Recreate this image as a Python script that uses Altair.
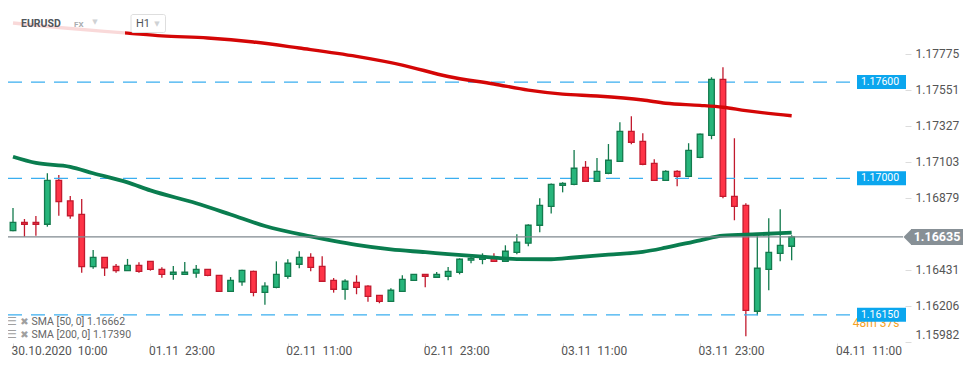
import altair as alt
import pandas as pd

# ---------------- data ----------------
opens = [1.16674, 1.16726, 1.16726, 1.16714, 1.16988, 1.16860, 1.16776, 1.16450, 1.16508, 1.16452,
         1.16425, 1.16458, 1.16483, 1.16433, 1.16402, 1.16402, 1.16409, 1.16433, 1.16396, 1.16296,
         1.16356, 1.16421, 1.16290, 1.16321, 1.16390, 1.16465, 1.16508, 1.16452, 1.16365, 1.16309,
         1.16352, 1.16328, 1.16271, 1.16234, 1.16296, 1.16365, 1.16402, 1.16384, 1.16390, 1.16415,
         1.16490, 1.16496, 1.16502, 1.16483, 1.16539, 1.16596, 1.16708, 1.16826, 1.16957, 1.16963,
         1.17069, 1.16982, 1.17032, 1.17106, 1.17293, 1.17231, 1.17094, 1.16988, 1.17044, 1.17013,
         1.17131, 1.17268, 1.17617, 1.16888, 1.16832, 1.16172, 1.16433, 1.16533, 1.16577]
closes = [1.16726, 1.16714, 1.16714, 1.16988, 1.16855, 1.16767, 1.16450, 1.16508, 1.16443, 1.16425,
          1.16458, 1.16421, 1.16433, 1.16402, 1.16415, 1.16415, 1.16433, 1.16396, 1.16296, 1.16365,
          1.16427, 1.16290, 1.16328, 1.16402, 1.16471, 1.16508, 1.16446, 1.16359, 1.16309, 1.16359,
          1.16321, 1.16265, 1.16234, 1.16303, 1.16371, 1.16402, 1.16390, 1.16402, 1.16421, 1.16496,
          1.16502, 1.16515, 1.16483, 1.16546, 1.16602, 1.16708, 1.16832, 1.16963, 1.16969, 1.17063,
          1.16982, 1.17044, 1.17113, 1.17293, 1.17225, 1.17088, 1.16988, 1.17044, 1.17013, 1.17175,
          1.17275, 1.17617, 1.16888, 1.16826, 1.16178, 1.16440, 1.16539, 1.16583, 1.16635]
highs = [1.16815, 1.16747, 1.16766, 1.17032, 1.17021, 1.16890, 1.16872, 1.16554, 1.16510, 1.16467,
         1.16498, 1.16477, 1.16485, 1.16446, 1.16454, 1.16479, 1.16460, 1.16435, 1.16398, 1.16385,
         1.16430, 1.16425, 1.16352, 1.16483, 1.16496, 1.16546, 1.16533, 1.16515, 1.16379, 1.16371,
         1.16396, 1.16334, 1.16273, 1.16315, 1.16396, 1.16404, 1.16404, 1.16417, 1.16448, 1.16502,
         1.16516, 1.16533, 1.16533, 1.16583, 1.16652, 1.16714, 1.16876, 1.16968, 1.16976, 1.17177,
         1.17108, 1.17127, 1.17214, 1.17349, 1.17387, 1.17281, 1.17119, 1.17050, 1.17050, 1.17219,
         1.17280, 1.17630, 1.17692, 1.17250, 1.16845, 1.16645, 1.16751, 1.16807, 1.16645]
lows = [1.16670, 1.16637, 1.16643, 1.16699, 1.16767, 1.16749, 1.16412, 1.16437, 1.16392, 1.16412,
        1.16423, 1.16412, 1.16425, 1.16381, 1.16369, 1.16400, 1.16381, 1.16390, 1.16294, 1.16294,
        1.16331, 1.16265, 1.16213, 1.16315, 1.16375, 1.16440, 1.16421, 1.16356, 1.16288, 1.16244,
        1.16278, 1.16232, 1.16222, 1.16232, 1.16294, 1.16363, 1.16321, 1.16382, 1.16365, 1.16402,
        1.16471, 1.16465, 1.16481, 1.16481, 1.16527, 1.16577, 1.16664, 1.16781, 1.16913, 1.16957,
        1.16980, 1.16980, 1.17026, 1.17104, 1.17212, 1.17082, 1.16986, 1.16986, 1.16951, 1.17007,
        1.17125, 1.17244, 1.16876, 1.16739, 1.16016, 1.16147, 1.16303, 1.16483, 1.16490]

sma50_idx = [0, 2, 5, 7, 10, 12, 16, 19, 22, 26, 28, 30, 33, 36, 38, 41, 44, 47, 49, 52, 55, 57, 60, 62, 65, 68]
sma50_val = [1.17135, 1.17096, 1.17072, 1.17032, 1.16975, 1.16925, 1.16845, 1.16775, 1.16703, 1.16638,
             1.16610, 1.16585, 1.16557, 1.16540, 1.16528, 1.16513, 1.16497, 1.16496, 1.16507, 1.16525,
             1.16542, 1.16568, 1.16614, 1.16643, 1.16652, 1.16662]
sma200_idx = [0, 4, 8, 10, 13, 17, 21, 25, 30, 34, 38, 42, 45, 48, 51, 55, 57, 60, 62, 64, 68]
sma200_val = [1.17968, 1.17940, 1.17916, 1.17905, 1.17888, 1.17875, 1.17850, 1.17812, 1.17760, 1.17706,
              1.17635, 1.17588, 1.17550, 1.17525, 1.17513, 1.17488, 1.17468, 1.17455, 1.17443, 1.17422,
              1.17390]

level_prices = [1.17600, 1.17000, 1.16150]
level_labels = ["1.17600", "1.17000", "1.16150"]
last_price = 1.16635
last_label = "1.16635"
y_ticks = [1.17775, 1.17551, 1.17327, 1.17103, 1.16879, 1.16431, 1.16206, 1.15982]
x_tick_idx = [0, 12, 24, 36, 48, 60, 72]
x_tick_labels = ["30.10.2020  10:00", "01.11  23:00", "02.11  11:00", "02.11  23:00",
                 "03.11  11:00", "03.11  23:00", "04.11  11:00"]
legend_lines = ["SMA [50, 0] 1.16662", "SMA [200, 0] 1.17390"]
symbol = "EURUSD"
market = "FX"
timeframe = "H1"
timer = "48m 37s"

# ---------------- build ----------------
W, H = 897, 335
FONT = "Roboto"
UP_FILL, DN_FILL = "#27b57b", "#ff3447"
UP_LINE, DN_LINE = "#137a4d", "#c11a2e"
SMA50_COL, SMA200_COL = "#0a7d4f", "#d40606"

candles = pd.DataFrame({"idx": list(range(len(opens))), "open": opens, "high": highs,
                        "low": lows, "close": closes})
candles["dir"] = ["up" if c >= o else "down" for o, c in zip(opens, closes)]

sma50 = pd.DataFrame({"idx": sma50_idx, "val": sma50_val})
sma200 = pd.DataFrame({"idx": sma200_idx, "val": sma200_val})
levels = pd.DataFrame({"price": level_prices, "label": level_labels})
lastdf = pd.DataFrame({"price": [last_price], "label": [last_label]})
one = pd.DataFrame({"k": [0]})

xscale = alt.Scale(domain=[0, W / 11.58], nice=False, zero=False)
yscale = alt.Scale(domain=[1.159742, 1.180616], nice=False, zero=False)

expr = "''"
for v, lab in reversed(list(zip(x_tick_idx, x_tick_labels))):
    expr = f"datum.value == {v} ? '{lab.replace('  ', chr(160) + chr(160))}' : ({expr})"

xaxis = alt.Axis(values=x_tick_idx, labelExpr=expr, labelAlign="left", labelPadding=-3,
                 labelOffset=-2, tickSize=5, tickColor="#d6d6d6", domain=False, grid=False,
                 labelFont=FONT, labelFontSize=12, labelColor="#555555", labelFlush=False,
                 labelOverlap=False, labelBound=False, title=None)
yaxis = alt.Axis(orient="right", values=y_ticks, format=".5f", tickSize=6, tickColor="#dcdcdc",
                 domain=False, grid=False, labelPadding=4, labelFont=FONT, labelFontSize=12,
                 labelColor="#555555", labelFlush=4, labelOverlap=False, title=None)

dir_dom = ["up", "down"]

dashed = alt.Chart(levels).mark_rule(color="#3aaef0", strokeWidth=1.3, strokeDash=[14, 9]).encode(
    x=alt.value(0), x2=alt.value(849), y=alt.Y("price:Q", scale=yscale, title=None))

wicks = alt.Chart(candles).mark_rule(strokeWidth=1.3).encode(
    x=alt.X("idx:Q", scale=xscale, axis=xaxis, title=None),
    y=alt.Y("low:Q", scale=yscale, axis=yaxis, title=None),
    y2="high:Q",
    stroke=alt.Stroke("dir:N", scale=alt.Scale(domain=dir_dom, range=[UP_LINE, DN_LINE]), legend=None))

bodies = alt.Chart(candles).mark_bar(size=5.6, strokeWidth=1.3).encode(
    x=alt.X("idx:Q", scale=xscale, title=None),
    y=alt.Y("open:Q", scale=yscale, title=None),
    y2="close:Q",
    fill=alt.Fill("dir:N", scale=alt.Scale(domain=dir_dom, range=[UP_FILL, DN_FILL]), legend=None),
    stroke=alt.Stroke("dir:N", scale=alt.Scale(domain=dir_dom, range=[UP_LINE, DN_LINE]), legend=None))

line50 = alt.Chart(sma50).mark_line(strokeWidth=3.8, interpolate="monotone", color=SMA50_COL).encode(
    x=alt.X("idx:Q", scale=xscale, title=None),
    y=alt.Y("val:Q", scale=yscale, title=None))
line200 = alt.Chart(sma200).mark_line(strokeWidth=3.4, interpolate="monotone", color=SMA200_COL).encode(
    x=alt.X("idx:Q", scale=xscale, title=None),
    y=alt.Y("val:Q", scale=yscale, title=None))

price_line = alt.Chart(lastdf).mark_rule(color="#7f898f", strokeWidth=1.2).encode(
    x=alt.value(0), x2=alt.value(895), y=alt.Y("price:Q", scale=yscale, title=None))

# timer text partly behind the lowest level label
timer_txt = alt.Chart(one).mark_text(text=timer, font=FONT, fontSize=12, color="#f4a124",
                                     align="center", baseline="middle").encode(
    x=alt.value(868), y=alt.value(315))

level_box = alt.Chart(levels).mark_rule(color="#0ba6ee", strokeWidth=14).encode(
    x=alt.value(849), x2=alt.value(898), y=alt.Y("price:Q", scale=yscale, title=None))
level_txt = alt.Chart(levels).mark_text(font=FONT, fontSize=10.5, color="white",
                                        align="center", baseline="middle").encode(
    x=alt.value(872), y=alt.Y("price:Q", scale=yscale, title=None), text="label:N")

last_box = alt.Chart(lastdf).mark_rule(color="#879096", strokeWidth=16).encode(
    x=alt.value(903), x2=alt.value(955), y=alt.Y("price:Q", scale=yscale, title=None))
last_tip = alt.Chart(lastdf).mark_point(shape="M -1 0 L 0 -1 L 0 1 Z", size=256, filled=True,
                                        color="#879096", opacity=1, strokeWidth=0).encode(
    x=alt.value(903.5), y=alt.Y("price:Q", scale=yscale, title=None))
last_txt = alt.Chart(lastdf).mark_text(font=FONT, fontSize=12.5, fontWeight="bold", color="white",
                                       align="center", baseline="middle").encode(
    x=alt.value(929), y=alt.Y("price:Q", scale=yscale, title=None), text="label:N")

# header
veil = alt.Chart(one).mark_rect(fill="white", opacity=0.85).encode(
    x=alt.value(3), x2=alt.value(117), y=alt.value(2), y2=alt.value(28))
h1box = alt.Chart(one).mark_rect(fill="white", stroke="#dedede", strokeWidth=1, cornerRadius=2).encode(
    x=alt.value(123), x2=alt.value(157.5), y=alt.value(6.5), y2=alt.value(24.5))
t_sym = alt.Chart(one).mark_text(text=symbol, font=FONT, fontSize=10.5, fontWeight="bold",
                                 color="#50565b", align="left", baseline="middle").encode(
    x=alt.value(13), y=alt.value(15.5))
t_mkt = alt.Chart(one).mark_text(text=market, font=FONT, fontSize=8, fontWeight="bold",
                                 color="#a9adb0", align="left", baseline="middle").encode(
    x=alt.value(66), y=alt.value(16.5))
t_arr1 = alt.Chart(one).mark_text(text="\u25bc", font="DejaVu Sans", fontSize=7, color="#cfd2d4",
                                  align="center", baseline="middle").encode(
    x=alt.value(87), y=alt.value(14))
t_tf = alt.Chart(one).mark_text(text=timeframe, font=FONT, fontSize=11, color="#50565b",
                                align="left", baseline="middle").encode(
    x=alt.value(128), y=alt.value(16))
t_arr2 = alt.Chart(one).mark_text(text="\u25bc", font="DejaVu Sans", fontSize=7, color="#cfd2d4",
                                  align="center", baseline="middle").encode(
    x=alt.value(149), y=alt.value(16))

# SMA legend at bottom-left
leg = pd.DataFrame({"t": legend_lines, "yy": [313.7, 327]})
leg_txt = alt.Chart(leg).mark_text(font=FONT, fontSize=10.5, color="#666666", align="left",
                                   baseline="middle").encode(
    x=alt.value(23.5), y=alt.Y("yy:Q", scale=None), text="t:N")
leg_ico1 = alt.Chart(leg).mark_text(text="\u2630", font="DejaVu Sans", fontSize=11, color="#a0a0a0",
                                    align="center", baseline="middle").encode(
    x=alt.value(4), y=alt.Y("yy:Q", scale=None))
leg_ico2 = alt.Chart(leg).mark_text(text="\u2716", font="DejaVu Sans", fontSize=10, color="#a0a0a0",
                                    align="center", baseline="middle").encode(
    x=alt.value(16.5), y=alt.Y("yy:Q", scale=None))

chart = alt.layer(
    wicks, dashed, bodies, line50, line200, price_line, veil, h1box, t_sym, t_mkt, t_arr1, t_tf,
    t_arr2, leg_ico1, leg_ico2, leg_txt, timer_txt, level_box, level_txt, last_box, last_tip, last_txt,
).properties(
    width=W, height=H,
    padding={"left": 0, "top": 0, "right": 61, "bottom": 17},
    autosize=alt.AutoSizeParams(type="none"),
    background="white",
).configure_view(stroke=None)

chart.save("out.html", embed_options={"renderer": "svg", "actions": False})
